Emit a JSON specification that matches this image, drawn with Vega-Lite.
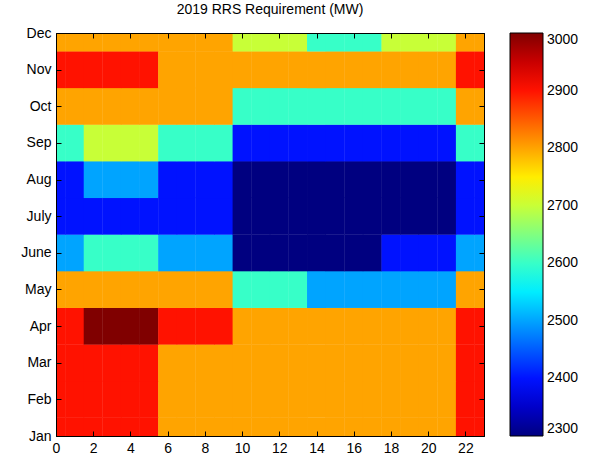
{
"$schema": "https://vega.github.io/schema/vega-lite/v6.json",
"width": 428, "height": 403,
"autosize": {"type": "none"},
"padding": {"left": 56, "top": 33, "right": 105, "bottom": 20},
"background": "white",
"title": {"text": "2019 RRS Requirement (MW)", "fontSize": 14, "fontWeight": "normal", "font": "Liberation Sans", "color": "black", "offset": 9},
"data": {"values": [
{"h":0,"m":1,"v":2975},{"h":1,"m":1,"v":2975},{"h":2,"m":1,"v":2960},{"h":3,"m":1,"v":2960},{"h":4,"m":1,"v":2960},{"h":5,"m":1,"v":2960},{"h":6,"m":1,"v":2860},{"h":7,"m":1,"v":2860},{"h":8,"m":1,"v":2860},{"h":9,"m":1,"v":2860},{"h":10,"m":1,"v":2850},{"h":11,"m":1,"v":2850},{"h":12,"m":1,"v":2850},{"h":13,"m":1,"v":2850},{"h":14,"m":1,"v":2850},{"h":15,"m":1,"v":2850},{"h":16,"m":1,"v":2850},{"h":17,"m":1,"v":2850},{"h":18,"m":1,"v":2850},{"h":19,"m":1,"v":2850},{"h":20,"m":1,"v":2850},{"h":21,"m":1,"v":2850},{"h":22,"m":1,"v":2975},{"h":23,"m":1,"v":2975},
{"h":0,"m":2,"v":2970},{"h":1,"m":2,"v":2970},{"h":2,"m":2,"v":2960},{"h":3,"m":2,"v":2960},{"h":4,"m":2,"v":2960},{"h":5,"m":2,"v":2960},{"h":6,"m":2,"v":2860},{"h":7,"m":2,"v":2860},{"h":8,"m":2,"v":2860},{"h":9,"m":2,"v":2860},{"h":10,"m":2,"v":2845},{"h":11,"m":2,"v":2845},{"h":12,"m":2,"v":2845},{"h":13,"m":2,"v":2845},{"h":14,"m":2,"v":2845},{"h":15,"m":2,"v":2845},{"h":16,"m":2,"v":2845},{"h":17,"m":2,"v":2845},{"h":18,"m":2,"v":2845},{"h":19,"m":2,"v":2845},{"h":20,"m":2,"v":2845},{"h":21,"m":2,"v":2845},{"h":22,"m":2,"v":2970},{"h":23,"m":2,"v":2970},
{"h":0,"m":3,"v":2965},{"h":1,"m":3,"v":2965},{"h":2,"m":3,"v":2983},{"h":3,"m":3,"v":2983},{"h":4,"m":3,"v":2983},{"h":5,"m":3,"v":2983},{"h":6,"m":3,"v":2868},{"h":7,"m":3,"v":2868},{"h":8,"m":3,"v":2868},{"h":9,"m":3,"v":2868},{"h":10,"m":3,"v":2850},{"h":11,"m":3,"v":2850},{"h":12,"m":3,"v":2850},{"h":13,"m":3,"v":2850},{"h":14,"m":3,"v":2850},{"h":15,"m":3,"v":2850},{"h":16,"m":3,"v":2850},{"h":17,"m":3,"v":2850},{"h":18,"m":3,"v":2850},{"h":19,"m":3,"v":2850},{"h":20,"m":3,"v":2850},{"h":21,"m":3,"v":2850},{"h":22,"m":3,"v":2965},{"h":23,"m":3,"v":2965},
{"h":0,"m":4,"v":2985},{"h":1,"m":4,"v":2985},{"h":2,"m":4,"v":3017},{"h":3,"m":4,"v":3017},{"h":4,"m":4,"v":3017},{"h":5,"m":4,"v":3017},{"h":6,"m":4,"v":2905},{"h":7,"m":4,"v":2905},{"h":8,"m":4,"v":2905},{"h":9,"m":4,"v":2905},{"h":10,"m":4,"v":2843},{"h":11,"m":4,"v":2843},{"h":12,"m":4,"v":2843},{"h":13,"m":4,"v":2843},{"h":14,"m":4,"v":2847},{"h":15,"m":4,"v":2847},{"h":16,"m":4,"v":2847},{"h":17,"m":4,"v":2847},{"h":18,"m":4,"v":2847},{"h":19,"m":4,"v":2847},{"h":20,"m":4,"v":2847},{"h":21,"m":4,"v":2847},{"h":22,"m":4,"v":2985},{"h":23,"m":4,"v":2985},
{"h":0,"m":5,"v":2837},{"h":1,"m":5,"v":2837},{"h":2,"m":5,"v":2863},{"h":3,"m":5,"v":2863},{"h":4,"m":5,"v":2863},{"h":5,"m":5,"v":2863},{"h":6,"m":5,"v":2810},{"h":7,"m":5,"v":2810},{"h":8,"m":5,"v":2810},{"h":9,"m":5,"v":2810},{"h":10,"m":5,"v":2617},{"h":11,"m":5,"v":2617},{"h":12,"m":5,"v":2617},{"h":13,"m":5,"v":2617},{"h":14,"m":5,"v":2572},{"h":15,"m":5,"v":2572},{"h":16,"m":5,"v":2572},{"h":17,"m":5,"v":2572},{"h":18,"m":5,"v":2570},{"h":19,"m":5,"v":2570},{"h":20,"m":5,"v":2570},{"h":21,"m":5,"v":2570},{"h":22,"m":5,"v":2837},{"h":23,"m":5,"v":2837},
{"h":0,"m":6,"v":2569},{"h":1,"m":6,"v":2569},{"h":2,"m":6,"v":2619},{"h":3,"m":6,"v":2619},{"h":4,"m":6,"v":2619},{"h":5,"m":6,"v":2619},{"h":6,"m":6,"v":2512},{"h":7,"m":6,"v":2512},{"h":8,"m":6,"v":2512},{"h":9,"m":6,"v":2512},{"h":10,"m":6,"v":2373},{"h":11,"m":6,"v":2373},{"h":12,"m":6,"v":2373},{"h":13,"m":6,"v":2373},{"h":14,"m":6,"v":2343},{"h":15,"m":6,"v":2343},{"h":16,"m":6,"v":2343},{"h":17,"m":6,"v":2343},{"h":18,"m":6,"v":2402},{"h":19,"m":6,"v":2402},{"h":20,"m":6,"v":2402},{"h":21,"m":6,"v":2402},{"h":22,"m":6,"v":2569},{"h":23,"m":6,"v":2569},
{"h":0,"m":7,"v":2441},{"h":1,"m":7,"v":2441},{"h":2,"m":7,"v":2462},{"h":3,"m":7,"v":2462},{"h":4,"m":7,"v":2462},{"h":5,"m":7,"v":2462},{"h":6,"m":7,"v":2440},{"h":7,"m":7,"v":2440},{"h":8,"m":7,"v":2440},{"h":9,"m":7,"v":2440},{"h":10,"m":7,"v":2320},{"h":11,"m":7,"v":2320},{"h":12,"m":7,"v":2320},{"h":13,"m":7,"v":2320},{"h":14,"m":7,"v":2315},{"h":15,"m":7,"v":2315},{"h":16,"m":7,"v":2315},{"h":17,"m":7,"v":2315},{"h":18,"m":7,"v":2330},{"h":19,"m":7,"v":2330},{"h":20,"m":7,"v":2330},{"h":21,"m":7,"v":2330},{"h":22,"m":7,"v":2441},{"h":23,"m":7,"v":2441},
{"h":0,"m":8,"v":2476},{"h":1,"m":8,"v":2476},{"h":2,"m":8,"v":2510},{"h":3,"m":8,"v":2510},{"h":4,"m":8,"v":2510},{"h":5,"m":8,"v":2510},{"h":6,"m":8,"v":2446},{"h":7,"m":8,"v":2446},{"h":8,"m":8,"v":2446},{"h":9,"m":8,"v":2446},{"h":10,"m":8,"v":2323},{"h":11,"m":8,"v":2323},{"h":12,"m":8,"v":2323},{"h":13,"m":8,"v":2323},{"h":14,"m":8,"v":2322},{"h":15,"m":8,"v":2322},{"h":16,"m":8,"v":2322},{"h":17,"m":8,"v":2322},{"h":18,"m":8,"v":2323},{"h":19,"m":8,"v":2323},{"h":20,"m":8,"v":2323},{"h":21,"m":8,"v":2323},{"h":22,"m":8,"v":2476},{"h":23,"m":8,"v":2476},
{"h":0,"m":9,"v":2661},{"h":1,"m":9,"v":2661},{"h":2,"m":9,"v":2744},{"h":3,"m":9,"v":2744},{"h":4,"m":9,"v":2744},{"h":5,"m":9,"v":2744},{"h":6,"m":9,"v":2612},{"h":7,"m":9,"v":2612},{"h":8,"m":9,"v":2612},{"h":9,"m":9,"v":2612},{"h":10,"m":9,"v":2430},{"h":11,"m":9,"v":2430},{"h":12,"m":9,"v":2430},{"h":13,"m":9,"v":2430},{"h":14,"m":9,"v":2405},{"h":15,"m":9,"v":2405},{"h":16,"m":9,"v":2405},{"h":17,"m":9,"v":2405},{"h":18,"m":9,"v":2430},{"h":19,"m":9,"v":2430},{"h":20,"m":9,"v":2430},{"h":21,"m":9,"v":2430},{"h":22,"m":9,"v":2661},{"h":23,"m":9,"v":2661},
{"h":0,"m":10,"v":2865},{"h":1,"m":10,"v":2865},{"h":2,"m":10,"v":2874},{"h":3,"m":10,"v":2874},{"h":4,"m":10,"v":2874},{"h":5,"m":10,"v":2874},{"h":6,"m":10,"v":2805},{"h":7,"m":10,"v":2805},{"h":8,"m":10,"v":2805},{"h":9,"m":10,"v":2805},{"h":10,"m":10,"v":2668},{"h":11,"m":10,"v":2668},{"h":12,"m":10,"v":2668},{"h":13,"m":10,"v":2668},{"h":14,"m":10,"v":2662},{"h":15,"m":10,"v":2662},{"h":16,"m":10,"v":2662},{"h":17,"m":10,"v":2662},{"h":18,"m":10,"v":2668},{"h":19,"m":10,"v":2668},{"h":20,"m":10,"v":2668},{"h":21,"m":10,"v":2668},{"h":22,"m":10,"v":2865},{"h":23,"m":10,"v":2865},
{"h":0,"m":11,"v":2962},{"h":1,"m":11,"v":2962},{"h":2,"m":11,"v":2965},{"h":3,"m":11,"v":2965},{"h":4,"m":11,"v":2965},{"h":5,"m":11,"v":2965},{"h":6,"m":11,"v":2869},{"h":7,"m":11,"v":2869},{"h":8,"m":11,"v":2869},{"h":9,"m":11,"v":2869},{"h":10,"m":11,"v":2842},{"h":11,"m":11,"v":2842},{"h":12,"m":11,"v":2842},{"h":13,"m":11,"v":2842},{"h":14,"m":11,"v":2840},{"h":15,"m":11,"v":2840},{"h":16,"m":11,"v":2840},{"h":17,"m":11,"v":2840},{"h":18,"m":11,"v":2842},{"h":19,"m":11,"v":2842},{"h":20,"m":11,"v":2842},{"h":21,"m":11,"v":2842},{"h":22,"m":11,"v":2962},{"h":23,"m":11,"v":2962},
{"h":0,"m":12,"v":2880},{"h":1,"m":12,"v":2880},{"h":2,"m":12,"v":2880},{"h":3,"m":12,"v":2880},{"h":4,"m":12,"v":2880},{"h":5,"m":12,"v":2880},{"h":6,"m":12,"v":2860},{"h":7,"m":12,"v":2860},{"h":8,"m":12,"v":2860},{"h":9,"m":12,"v":2860},{"h":10,"m":12,"v":2749},{"h":11,"m":12,"v":2749},{"h":12,"m":12,"v":2749},{"h":13,"m":12,"v":2749},{"h":14,"m":12,"v":2667},{"h":15,"m":12,"v":2667},{"h":16,"m":12,"v":2667},{"h":17,"m":12,"v":2667},{"h":18,"m":12,"v":2749},{"h":19,"m":12,"v":2749},{"h":20,"m":12,"v":2749},{"h":21,"m":12,"v":2749},{"h":22,"m":12,"v":2880},{"h":23,"m":12,"v":2880}
]},
"layer": [
 {
  "transform": [{"bin": {"step": 100, "extent": [2300, 3100]}, "field": "v", "as": "vb"}],
  "mark": {"type": "rect", "width": 19, "height": 37, "clip": true, "strokeWidth": 0},
  "encoding": {
   "x": {"field": "h", "type": "quantitative", "scale": {"domain": [0, 23], "nice": false, "zero": false},
         "axis": {"orient": "bottom", "zindex": 2, "tickSize": -5, "values": [0,2,4,6,8,10,12,14,16,18,20,22], "labelPadding": 10, "labelFlush": false}},
   "y": {"field": "m", "type": "quantitative", "scale": {"domain": [1, 12], "nice": false, "zero": false},
         "axis": {"orient": "left", "zindex": 2, "tickSize": -5, "values": [1,2,3,4,5,6,7,8,9,10,11,12], "labelPadding": 10, "labelFlush": false,
                  "labelExpr": "['Jan','Feb','Mar','Apr','May','June','July','Aug','Sep','Oct','Nov','Dec'][datum.value-1]"}},
   "color": {"field": "vb", "type": "quantitative",
     "scale": {"domain": [2300, 2387.5, 2562.5, 2737.5, 2912.5, 3000], "range": ["#000080", "#0000ff", "#00ffff", "#ffff00", "#ff0000", "#800000"], "interpolate": "rgb", "clamp": true},
     "legend": {"title": null, "orient": "right", "direction": "vertical", "values": [2300,2400,2500,2600,2700,2800,2900,3000], "format": "d",
        "gradientLength": 403, "gradientThickness": 33, "offset": 25, "labelFontSize": 14, "labelFont": "Liberation Sans", "labelColor": "black",
        "labelOffset": 4, "labelBaseline": "middle", "labelOverlap": false, "gradientStrokeColor": "black", "gradientStrokeWidth": 1}}
  }
 },
 {
  "mark": {"type": "point", "opacity": 0},
  "encoding": {
   "x": {"field": "h", "type": "quantitative", "axis": {"orient": "top", "zindex": 2, "tickSize": -5, "labels": false, "values": [0,2,4,6,8,10,12,14,16,18,20,22]}},
   "y": {"field": "m", "type": "quantitative", "axis": {"orient": "right", "zindex": 2, "tickSize": -5, "labels": false, "values": [1,2,3,4,5,6,7,8,9,10,11,12]}}
  }
 }
],
"resolve": {"axis": {"x": "independent", "y": "independent"}},
"config": {
 "view": {"stroke": "black", "strokeWidth": 1},
 "axis": {"domain": true, "domainColor": "black", "domainWidth": 1, "tickColor": "black", "tickWidth": 1, "labelColor": "black", "labelFont": "Liberation Sans", "labelFontSize": 14, "grid": false, "title": null}
}
}
